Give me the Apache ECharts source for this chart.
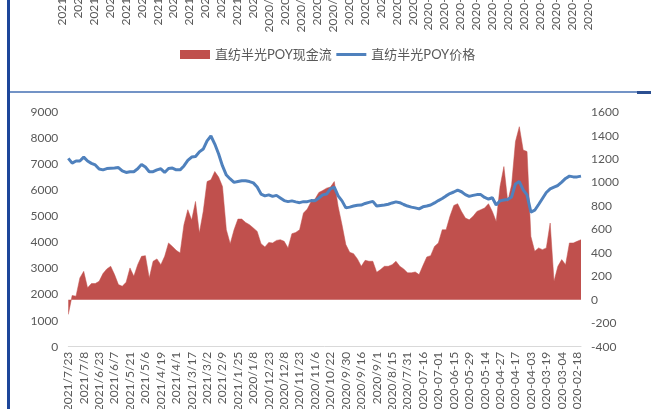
<!DOCTYPE html>
<html>
<head>
<meta charset="utf-8">
<script src="https://cdn.jsdelivr.net/npm/echarts@6/dist/echarts.min.js"></script>
<style>
  html, body { margin: 0; padding: 0; background: #fff; }
  #wrap { position: relative; width: 651px; height: 409px; overflow: hidden; }
  #chart { position: absolute; left: 0; top: 0; width: 651px; height: 409px; }
  .edge-left { position: absolute; left: 7px; top: 0; width: 3px; height: 409px; background: #1d469a; }
  .divider { position: absolute; left: 10px; top: 91px; width: 627px; height: 2px; background: #7393c6; }
  .divider-end { position: absolute; left: 637px; top: 91px; width: 14px; height: 3px; background: #2b4f91; }
</style>
</head>
<body>
<div id="wrap">
  <div id="chart"></div>
  <div class="edge-left"></div>
  <div class="divider"></div>
  <div class="divider-end"></div>
</div>
<script>
// tick labels, newest first (the sheet is sorted descending)
const dateLabels = [
  "2021/7/23", "2021/7/8", "2021/6/23", "2021/6/7", "2021/5/21", "2021/5/6",
  "2021/4/19", "2021/4/1", "2021/3/17", "2021/3/2", "2021/2/9", "2021/1/25",
  "2020/1/8", "2020/12/23", "2020/12/8", "2020/11/23", "2020/11/6", "2020/10/22",
  "2020/9/30", "2020/9/16", "2020/9/1", "2020/8/15", "2020/7/31", "2020-07-16",
  "2020-07-01", "2020-06-15", "2020-05-29", "2020-05-14", "2020-04-27", "2020-04-17",
  "2020-04-03", "2020-03-19", "2020-03-04", "2020-02-18"
];

// 直纺半光POY价格 (left axis)
const price = [
  7230, 7050, 7130, 7130, 7280, 7130, 7040, 6980, 6820, 6790,
  6840, 6850, 6860, 6880, 6750, 6690, 6720, 6720, 6830, 7000,
  6900, 6720, 6720, 6790, 6830, 6690, 6840, 6860, 6790, 6790,
  6940, 7150, 7280, 7300, 7480, 7590, 7900, 8090, 7780, 7400,
  6940, 6590, 6440, 6310, 6340, 6370, 6370, 6340, 6290, 6130,
  5860, 5790, 5830, 5770, 5810, 5710, 5610, 5570, 5600, 5560,
  5530, 5570, 5570, 5610, 5600, 5710, 5830, 5860, 6060, 6130,
  5790, 5600, 5330, 5360, 5400, 5430, 5440, 5500, 5540, 5580,
  5400, 5420, 5440, 5470, 5520, 5560, 5530, 5460, 5400, 5360,
  5330, 5290, 5370, 5400, 5440, 5520, 5610, 5690, 5790, 5880,
  5940, 6010, 5950, 5840, 5770, 5810, 5840, 5840, 5730, 5670,
  5720, 5440, 5600, 5630, 5650, 5750, 6250, 6340, 6020, 5830,
  5170, 5240, 5460, 5690, 5920, 6060, 6130, 6190, 6320, 6460,
  6550, 6520, 6520, 6550
];

// 直纺半光POY现金流 (right axis)
const cashFlow = [
  -125, 37, 31, 187, 243, 102, 139, 139, 158, 224,
  264, 286, 215, 130, 116, 150, 272, 201, 300, 371,
  377, 187, 329, 349, 300, 371, 485, 456, 422, 400,
  641, 769, 680, 839, 570, 754, 1009, 1024, 1095, 1047,
  967, 598, 479, 598, 689, 689, 660, 641, 613, 584,
  479, 451, 490, 485, 507, 513, 499, 443, 564, 575,
  598, 740, 774, 839, 860, 916, 933, 953, 962, 1009,
  797, 641, 471, 405, 394, 349, 286, 337, 329, 329,
  235, 258, 286, 286, 300, 329, 286, 264, 230, 230,
  238, 215, 292, 366, 377, 456, 485, 598, 598, 712,
  805, 820, 754, 698, 683, 712, 754, 769, 783, 820,
  754, 669, 967, 1137, 839, 981, 1350, 1477, 1279, 1265,
  541, 414, 443, 428, 443, 655, 158, 286, 343, 300,
  485, 485, 499, 513
];

// one labelled date every 4 points, unlabelled points in between
const categories = [];
dateLabels.forEach(function (d, j) {
  categories.push(d);
  if (j < dateLabels.length - 1) {
    for (let k = 0; k < 3; k++) categories.push("");
  }
});
while (categories.length < price.length) categories.push("");

const font = 'Lato, "Noto Sans CJK SC", sans-serif';
const grey = "#595959";
const plain = function (v) { return String(v); };

const chart = echarts.init(document.getElementById("chart"));
chart.setOption({
  animation: false,
  legend: {
    left: 180,
    top: 48,
    padding: 0,
    itemWidth: 30,
    itemHeight: 9,
    itemGap: 3,
    textStyle: { fontFamily: font, fontSize: 13, color: grey },
    data: [
      { name: "直纺半光POY现金流", icon: "rect" },
      // plain line key, no marker dot
      { name: "直纺半光POY价格", itemStyle: { opacity: 0 }, lineStyle: { width: 3, color: "#4f81bd" } }
    ]
  },
  grid: [
    { left: 68.3, right: 70, top: 112.3, bottom: 62.3, outerBoundsMode: "none" },
    // the chart above, only its axis labels reach into view
    { left: 62, right: 63, top: -100, height: 58, outerBoundsMode: "none" }
  ],
  xAxis: [
    {
      type: "category",
      gridIndex: 0,
      data: categories,
      boundaryGap: false,
      axisLine: { lineStyle: { color: "#d9d9d9", width: 1 } },
      axisTick: { show: false },
      axisLabel: {
        interval: 3,
        rotate: 90,
        margin: 5,
        color: grey,
        fontSize: 12,
        fontFamily: font
      }
    },
    {
      type: "category",
      gridIndex: 1,
      data: dateLabels,
      boundaryGap: false,
      axisLine: { show: false },
      axisTick: { show: false },
      axisLabel: {
        interval: 0,
        rotate: 90,
        margin: 8,
        color: grey,
        fontSize: 12,
        fontFamily: font
      }
    }
  ],
  yAxis: [
    {
      type: "value",
      gridIndex: 0,
      position: "left",
      min: 0,
      max: 9000,
      interval: 1000,
      splitLine: { show: false },
      axisLine: { show: false },
      axisTick: { show: false },
      axisLabel: { margin: 10, color: grey, fontSize: 12, fontFamily: font, formatter: plain }
    },
    {
      type: "value",
      gridIndex: 0,
      position: "right",
      min: -400,
      max: 1600,
      interval: 200,
      splitLine: { show: false },
      axisLine: { show: false },
      axisTick: { show: false },
      axisLabel: { margin: 10, color: grey, fontSize: 12, fontFamily: font, formatter: plain }
    },
    { type: "value", gridIndex: 1, show: false, min: 0, max: 1 }
  ],
  series: [
    {
      name: "直纺半光POY现金流",
      type: "line",
      xAxisIndex: 0,
      yAxisIndex: 1,
      data: cashFlow,
      smooth: false,
      symbol: "none",
      lineStyle: { width: 0.5, color: "#c0504d" },
      itemStyle: { color: "#c0504d" },
      areaStyle: { color: "#c0504d", opacity: 1 }
    },
    {
      name: "直纺半光POY价格",
      type: "line",
      xAxisIndex: 0,
      yAxisIndex: 0,
      data: price,
      smooth: false,
      symbol: "none",
      lineStyle: { width: 3, color: "#4f81bd" },
      itemStyle: { color: "#4f81bd" }
    }
  ]
});
</script>
</body>
</html>
